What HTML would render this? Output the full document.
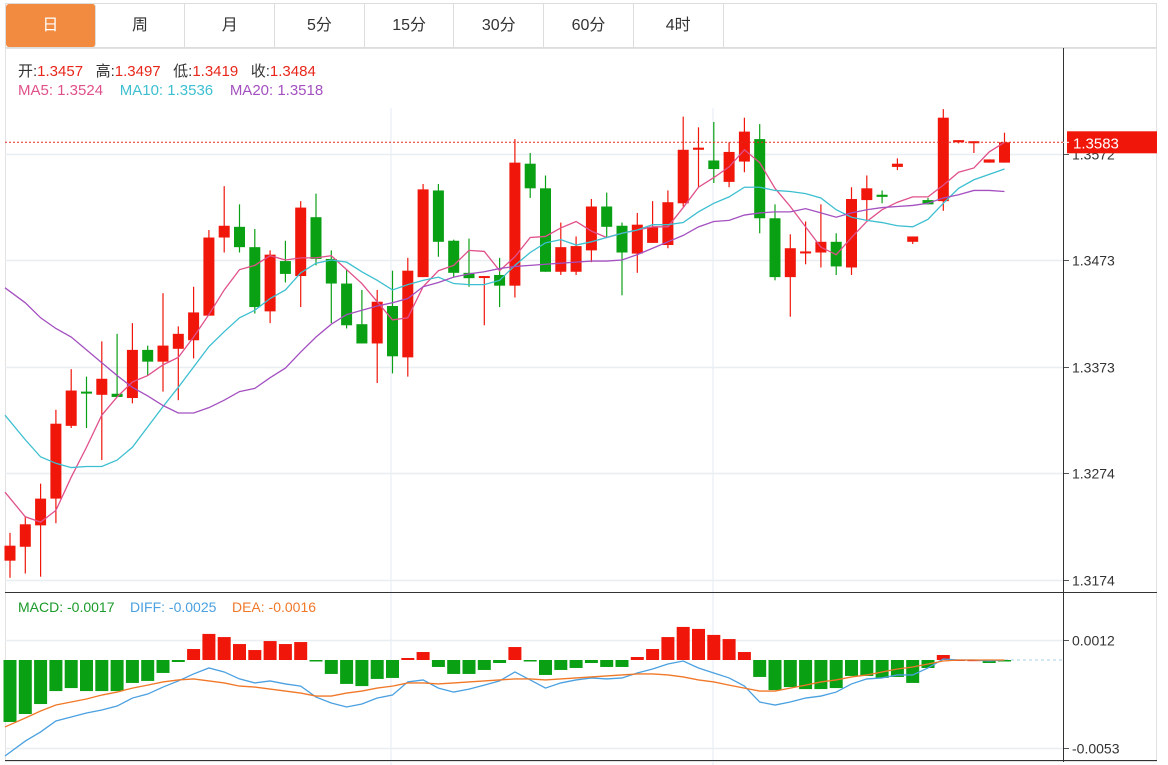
<!DOCTYPE html>
<html><head><meta charset="utf-8"><style>
body{margin:0;background:#fff;width:1168px;height:765px;overflow:hidden;font-family:"Liberation Sans","Noto Sans CJK SC",sans-serif}
.tabs{position:absolute;left:5px;top:3px;width:1152px;height:45px;border:1px solid #ddd;box-sizing:border-box;display:flex}
.tab{width:89.7px;height:43px;line-height:43px;text-align:center;font-size:16px;color:#333;border-right:1px solid #ddd;box-sizing:border-box}
.tab.on{background:#f28b40;color:#fff;border-radius:3px}
.info{position:absolute;left:18px;font-size:15px}
</style></head><body>
<div class="tabs">
<div class="tab on">日</div>
<div class="tab">周</div>
<div class="tab">月</div>
<div class="tab">5分</div>
<div class="tab">15分</div>
<div class="tab">30分</div>
<div class="tab">60分</div>
<div class="tab">4时</div>
</div>
<div class="info" style="top:60px"><span style="color:#333">开:</span><span style="color:#e8261a">1.3457</span>&nbsp;&nbsp; <span style="color:#333">高:</span><span style="color:#e8261a">1.3497</span>&nbsp;&nbsp; <span style="color:#333">低:</span><span style="color:#e8261a">1.3419</span>&nbsp;&nbsp; <span style="color:#333">收:</span><span style="color:#e8261a">1.3484</span></div>
<div class="info" style="top:82px"><span style="color:#e0508a">MA5: 1.3524</span>&nbsp;&nbsp;&nbsp; <span style="color:#3cbfd0">MA10: 1.3536</span>&nbsp;&nbsp;&nbsp; <span style="color:#a450c0">MA20: 1.3518</span></div>
<div class="info" style="top:599px;font-size:14px"><span style="color:#1a9a2a">MACD: -0.0017</span>&nbsp;&nbsp;&nbsp; <span style="color:#4aa0e0">DIFF: -0.0025</span>&nbsp;&nbsp;&nbsp; <span style="color:#f07828">DEA: -0.0016</span></div>
<svg id="c" width="1168" height="765" style="position:absolute;left:0;top:0"></svg>
<script>
const opens=[1.3192,1.3205,1.3225,1.3250,1.3318,1.3350,1.3347,1.3348,1.3344,1.3389,1.3378,1.3390,1.3398,1.3421,1.3494,1.3504,1.3485,1.3425,1.3472,1.3458,1.3513,1.3474,1.3451,1.3413,1.3395,1.3430,1.3382,1.3457,1.3538,1.3491,1.3461,1.3457,1.3459,1.3449,1.3563,1.3540,1.3462,1.3462,1.3482,1.3523,1.3505,1.3479,1.3489,1.3487,1.3526,1.3576,1.3566,1.3546,1.3565,1.3586,1.3512,1.3457,1.3480,1.3480,1.3490,1.3466,1.3529,1.3534,1.3560,1.3490,1.3529,1.3528,1.3583,1.3583,1.3564,1.3564];
const highs=[1.3218,1.3233,1.3264,1.3333,1.3371,1.3364,1.3397,1.3404,1.3414,1.3393,1.3442,1.3411,1.3448,1.3501,1.3542,1.3525,1.3502,1.3482,1.3491,1.3528,1.3535,1.3482,1.3464,1.3445,1.3445,1.3463,1.3475,1.3544,1.3544,1.3492,1.3493,1.3458,1.3475,1.3586,1.3573,1.3552,1.3508,1.3495,1.3530,1.3536,1.3508,1.3517,1.3528,1.3538,1.3607,1.3597,1.3602,1.3583,1.3606,1.3600,1.3525,1.3497,1.3509,1.3525,1.3498,1.3541,1.3552,1.3538,1.3568,1.3495,1.3531,1.3614,1.3585,1.3584,1.3567,1.3592];
const lows=[1.3176,1.3180,1.3177,1.3227,1.3316,1.3316,1.3286,1.3345,1.3339,1.3365,1.3350,1.3342,1.3381,1.3421,1.3480,1.3480,1.3423,1.3414,1.3452,1.3429,1.3468,1.3414,1.3409,1.3395,1.3358,1.3367,1.3364,1.3457,1.3476,1.3457,1.3448,1.3412,1.3429,1.3438,1.3531,1.3462,1.3459,1.3459,1.3471,1.3494,1.3440,1.3461,1.3489,1.3484,1.3523,1.3541,1.3545,1.3541,1.3555,1.3498,1.3454,1.3420,1.3469,1.3466,1.3459,1.3459,1.3510,1.3526,1.3557,1.3488,1.3525,1.3519,1.3582,1.3573,1.3564,1.3564];
const closes=[1.3206,1.3226,1.3250,1.3320,1.3351,1.3349,1.3362,1.3345,1.3389,1.3378,1.3393,1.3404,1.3424,1.3494,1.3505,1.3485,1.3429,1.3478,1.3460,1.3522,1.3474,1.3451,1.3412,1.3395,1.3434,1.3383,1.3463,1.3539,1.3490,1.3461,1.3456,1.3458,1.3449,1.3564,1.3540,1.3462,1.3485,1.3486,1.3523,1.3504,1.3480,1.3506,1.3504,1.3527,1.3576,1.3578,1.3558,1.3574,1.3593,1.3512,1.3457,1.3484,1.3481,1.3490,1.3467,1.3530,1.3540,1.3532,1.3563,1.3495,1.3525,1.3606,1.3585,1.3584,1.3567,1.3583];
const ma5=[1.3256,1.3233,1.3228,1.3239,1.3270,1.3298,1.3328,1.3345,1.3359,1.3365,1.3375,1.3382,1.3401,1.3422,1.3445,1.3464,1.3468,1.3477,1.3473,1.3475,1.3475,1.3477,1.3464,1.3451,1.3434,1.3417,1.3419,1.3448,1.3463,1.3468,1.3482,1.3481,1.3463,1.3476,1.3494,1.3495,1.3503,1.3509,1.3500,1.3494,1.3498,1.3501,1.3504,1.3504,1.3522,1.3541,1.3550,1.3560,1.3576,1.3564,1.3540,1.3523,1.3504,1.3485,1.3478,1.3494,1.3509,1.3520,1.3527,1.3532,1.3532,1.3543,1.3555,1.3559,1.3574,1.3583];
const ma10=[1.3328,1.3305,1.3289,1.3283,1.3279,1.3280,1.3280,1.3286,1.3298,1.3317,1.3336,1.3354,1.3373,1.3392,1.3406,1.3419,1.3426,1.3437,1.3445,1.3461,1.3470,1.3473,1.3471,1.3462,1.3454,1.3445,1.3450,1.3454,1.3457,1.3451,1.3450,1.3450,1.3454,1.3468,1.3480,1.3489,1.3492,1.3487,1.3490,1.3494,1.3498,1.3501,1.3506,1.3506,1.3508,1.3518,1.3526,1.3532,1.3541,1.3541,1.3538,1.3537,1.3535,1.3531,1.3520,1.3513,1.3510,1.3508,1.3505,1.3504,1.3511,1.3526,1.3540,1.3548,1.3553,1.3558];
const ma20=[1.3447,1.3433,1.3419,1.3409,1.3401,1.3389,1.3377,1.3365,1.3354,1.3346,1.3337,1.3330,1.3330,1.3335,1.3342,1.3350,1.3353,1.3363,1.3372,1.3387,1.3401,1.3413,1.3422,1.3426,1.3430,1.3433,1.3437,1.3448,1.3452,1.3457,1.3460,1.3462,1.3465,1.3467,1.3468,1.3469,1.3470,1.3471,1.3472,1.3472,1.3473,1.3478,1.3484,1.3490,1.3496,1.3504,1.3509,1.3510,1.3515,1.3517,1.3518,1.3518,1.3521,1.3517,1.3513,1.3517,1.3520,1.3522,1.3523,1.3524,1.3526,1.3531,1.3534,1.3538,1.3538,1.3537];
const macdHist=[-0.00373,-0.00325,-0.00265,-0.00187,-0.00169,-0.00187,-0.00187,-0.00187,-0.00138,-0.00126,-0.00078,-0.00012,0.00066,0.00157,0.00138,0.00096,0.00060,0.00114,0.00096,0.00108,-0.00006,-0.00084,-0.00144,-0.00157,-0.00114,-0.00108,0.00012,0.00048,-0.00042,-0.00084,-0.00084,-0.00060,-0.00018,0.00078,-0.00006,-0.00090,-0.00060,-0.00048,-0.00018,-0.00042,-0.00042,0.00018,0.00066,0.00138,0.00199,0.00187,0.00151,0.00126,0.00048,-0.00102,-0.00181,-0.00163,-0.00175,-0.00175,-0.00169,-0.00096,-0.00096,-0.00108,-0.00102,-0.00138,-0.00048,0.00030,0.00003,0.00002,-0.00018,-0.00003];
const diff=[-0.00578,-0.00488,-0.00433,-0.00367,-0.00343,-0.00319,-0.00301,-0.00277,-0.00229,-0.00205,-0.00163,-0.00126,-0.00084,-0.00048,-0.00072,-0.00114,-0.00138,-0.00126,-0.00144,-0.00157,-0.00223,-0.00259,-0.00283,-0.00265,-0.00229,-0.00211,-0.00132,-0.00120,-0.00169,-0.00193,-0.00175,-0.00151,-0.00126,-0.00072,-0.00120,-0.00169,-0.00138,-0.00120,-0.00108,-0.00114,-0.00108,-0.00078,-0.00054,-0.00024,-0.00006,-0.00048,-0.00078,-0.00108,-0.00157,-0.00253,-0.00271,-0.00253,-0.00229,-0.00217,-0.00193,-0.00144,-0.00114,-0.00108,-0.00090,-0.00090,-0.00048,0.00006,0,0,-0.00006,0];
const dea=[-0.00403,-0.00349,-0.00307,-0.00271,-0.00253,-0.00235,-0.00211,-0.00193,-0.00169,-0.00151,-0.00132,-0.00120,-0.00114,-0.00126,-0.00138,-0.00157,-0.00163,-0.00175,-0.00187,-0.00199,-0.00217,-0.00217,-0.00199,-0.00187,-0.00169,-0.00157,-0.00138,-0.00138,-0.00144,-0.00138,-0.00132,-0.00126,-0.00120,-0.00114,-0.00114,-0.00120,-0.00114,-0.00108,-0.00102,-0.00096,-0.00090,-0.00084,-0.00084,-0.00090,-0.00102,-0.00120,-0.00132,-0.00151,-0.00169,-0.00187,-0.00187,-0.00169,-0.00151,-0.00132,-0.00120,-0.00102,-0.00090,-0.00072,-0.00054,-0.00042,-0.00024,-0.00006,0,0,0,0];
const priceTicks=[1.3572,1.3473,1.3373,1.3274,1.3174];
const macdTicks=[0.0012,-0.0053];
const lastPrice=1.3583;

const NS='http://www.w3.org/2000/svg';
const svg=document.getElementById('c');
const RED='#f0160a',GREEN='#0aa014';
const xAt=i=>10+i*15.3;
const yP=p=>260-(p-1.3473)*10700;
const yM=v=>660-v*16615;
function mk(tag,attrs,parent){const e=document.createElementNS(NS,tag);for(const k in attrs)e.setAttribute(k,attrs[k]);(parent||svg).appendChild(e);return e;}

// frame and grid
mk('rect',{x:5.5,y:48.5,width:1151,height:713,fill:'none',stroke:'#e2e2e2'});
[391,713].forEach(x=>{mk('line',{x1:x,y1:108,x2:x,y2:765,stroke:'#e3eaf0'});});
priceTicks.forEach(t=>{const y=Math.round(yP(t))+0.5;
 const g=mk('line',{x1:5,y1:y,x2:1063,y2:y,stroke:'#e8eef2','stroke-width':1.5});
 
 
 mk('line',{x1:1063,y1:y,x2:1069,y2:y,stroke:'#555'});
 const tx=mk('text',{x:1072,y:y+5,'font-size':14,fill:'#333','font-family':'Liberation Sans, sans-serif'});tx.textContent=t.toFixed(4);
 
 
});
macdTicks.forEach(t=>{const y=Math.round(yM(t))+0.5;
 mk('line',{x1:5,y1:y,x2:1063,y2:y,stroke:'#e8eef2','stroke-width':1.5});
 mk('line',{x1:1063,y1:y,x2:1069,y2:y,stroke:'#555'});
 const tx=mk('text',{x:1072,y:y+5,'font-size':14,fill:'#333','font-family':'Liberation Sans, sans-serif'});tx.textContent=t.toFixed(4);
 
 
});
mk('line',{x1:1063.5,y1:48,x2:1063.5,y2:762,stroke:'#333'});
mk('line',{x1:5,y1:592.5,x2:1157,y2:592.5,stroke:'#333'});
mk('line',{x1:5,y1:760.5,x2:1157,y2:760.5,stroke:'#333'});

// candles
for(let i=0;i<opens.length;i++){
 const up=closes[i]>=opens[i];const col=up?RED:GREEN;const x=xAt(i);
 const g=mk('g',{});
 
 
 mk('line',{x1:x,y1:yP(highs[i]),x2:x,y2:yP(lows[i]),stroke:col,'stroke-width':1.2},g);
 const top=yP(Math.max(opens[i],closes[i])),bot=yP(Math.min(opens[i],closes[i]));
 mk('rect',{x:x-5.5,y:top,width:11,height:Math.max(2,bot-top),fill:col},g);
}
function line(arr,col,f,name){
 const p=mk('polyline',{points:arr.map((v,i)=>(i===0?5:xAt(i))+','+f(v)).join(' '),fill:'none',stroke:col,'stroke-width':1.3});
 
 
}
line(ma5,'#e0508a',yP,'ma5-line');
line(ma10,'#3cbfd0',yP,'ma10-line');
line(ma20,'#a450c0',yP,'ma20-line');

// last price marker
const ly=yP(lastPrice);
const dl=mk('line',{x1:5,y1:ly,x2:1063,y2:ly,stroke:'#e8261a','stroke-dasharray':'2,2'});


mk('rect',{x:1067,y:ly-11,width:90,height:22,fill:'#f0160a'});
mk('line',{x1:1063,y1:ly,x2:1069,y2:ly,stroke:'#fff'});
const lt=mk('text',{x:1073,y:ly+6,'font-size':15,fill:'#fff','font-family':'Liberation Sans, sans-serif'});lt.textContent=lastPrice.toFixed(4);



// MACD
mk('line',{x1:1005,y1:yM(0),x2:1063,y2:yM(0),stroke:'#a8d0e8','stroke-dasharray':'3,3'});
for(let i=0;i<macdHist.length;i++){
 const v=macdHist[i];const y0=yM(0),y1=yM(v);
 const r=mk('rect',{x:xAt(i)-6.5,y:Math.min(y0,y1),width:13,height:Math.max(1.5,Math.abs(y1-y0)),fill:v>=0?RED:GREEN});
 
 
}
line(diff,'#4aa0e0',yM,'diff-line');
line(dea,'#f07828',yM,'dea-line');
</script>
</body></html>
